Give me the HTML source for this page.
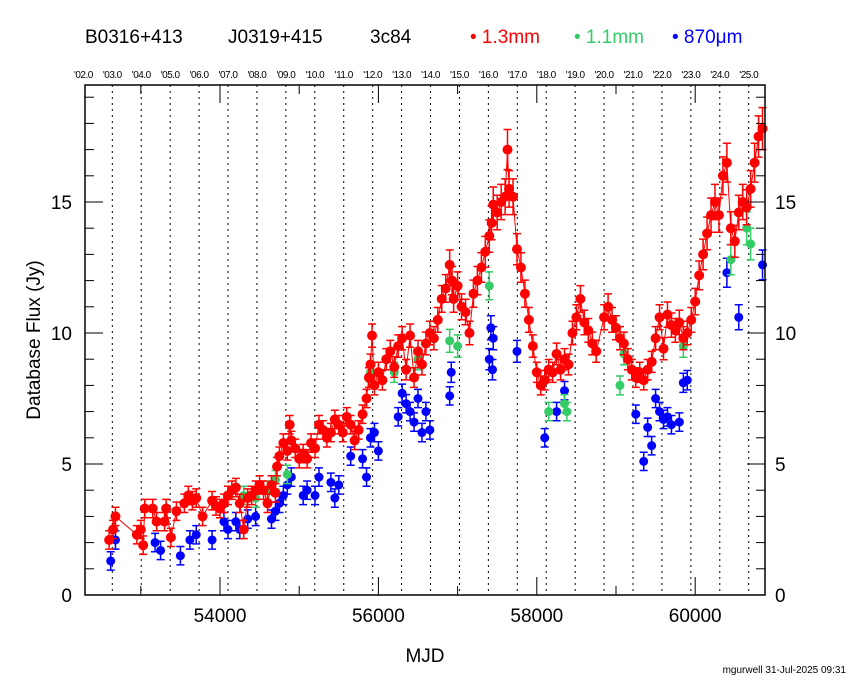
<!DOCTYPE html>
<html><head><meta charset="utf-8"><style>
body{margin:0;background:#fff;}
svg{display:block;font-family:"Liberation Sans",sans-serif;}
</style></head><body>
<svg id="chart" width="850" height="680" viewBox="0 0 850 680" xmlns="http://www.w3.org/2000/svg">
<rect width="850" height="680" fill="#fff"/>
<text x="85" y="43" font-size="19" fill="#000">B0316+413</text>
<text x="228" y="43" font-size="19" fill="#000">J0319+415</text>
<text x="370" y="43" font-size="19" fill="#000">3c84</text>
<g font-size="19">
<text x="470" y="43" fill="#ff0000">• 1.3mm</text>
<text x="574" y="43" fill="#33cc66">• 1.1mm</text>
<text x="672" y="43" fill="#0000ff">• 870μm</text>
</g>
<g id="grid"></g><g id="data"></g>
<rect x="85" y="85" width="680" height="510" fill="none" stroke="#000" stroke-width="1.5"/>
<g id="axes"></g>
<text transform="translate(40,340) rotate(-90)" text-anchor="middle" font-size="19">Database Flux (Jy)</text>
<text x="425" y="662" text-anchor="middle" font-size="19">MJD</text>
<text x="846" y="673" text-anchor="end" font-size="10">mgurwell 31-Jul-2025 09:31</text>
</svg>
<script>
const redMjd=[52600,52650,52680,52950,53000,53030,53050,53150,53200,53300,53320,53380,53450,53550,53600,53650,53700,53780,53900,53950,54000,54050,54100,54150,54200,54250,54300,54350,54400,54450,54500,54550,54600,54650,54700,54720,54750,54800,54850,54880,54900,54950,55000,55050,55100,55150,55200,55250,55300,55350,55400,55450,55500,55550,55600,55650,55700,55750,55800,55850,55880,55900,55920,55950,56000,56050,56100,56150,56200,56250,56300,56350,56400,56450,56500,56550,56600,56650,56700,56750,56800,56850,56900,56930,56950,57000,57050,57100,57150,57200,57250,57300,57350,57400,57430,57450,57500,57550,57600,57630,57650,57700,57750,57800,57850,57900,57950,58000,58050,58100,58150,58200,58250,58300,58350,58400,58450,58500,58550,58600,58650,58700,58750,58850,58900,58950,59000,59050,59100,59150,59200,59250,59300,59350,59400,59450,59500,59550,59600,59650,59700,59750,59800,59850,59900,59950,60000,60050,60100,60150,60200,60250,60300,60350,60400,60450,60500,60550,60600,60650,60700,60750,60800,60850];
const redFlux=[2.1,2.5,3.0,2.3,2.5,1.9,3.3,3.3,2.8,2.8,3.3,2.2,3.2,3.5,3.8,3.6,3.7,3.0,3.6,3.4,3.3,3.5,3.8,4.0,4.1,3.5,2.5,3.7,3.8,4.0,4.2,4.0,3.5,4.2,3.9,4.9,5.3,5.8,5.5,6.5,5.9,5.6,5.2,5.4,5.2,5.8,5.6,6.5,6.3,6.0,6.2,6.7,6.5,6.2,6.8,6.5,5.9,6.3,6.9,7.5,8.3,8.8,9.9,8.0,8.5,8.2,9.0,9.3,8.7,9.5,9.8,8.6,9.9,8.3,9.3,8.8,9.6,10.0,9.8,10.5,11.3,11.7,12.6,12.0,11.3,11.8,11.0,10.8,10.0,11.5,12.0,12.5,13.1,13.7,14.2,14.9,14.6,15.0,15.2,17.0,15.5,15.2,13.2,12.5,11.5,10.5,9.5,8.5,8.0,8.2,8.6,8.5,9.2,8.6,9.0,8.8,10.0,10.6,11.3,10.4,10.1,9.6,9.3,10.6,11.0,10.5,10.2,9.8,9.6,9.0,8.6,8.3,8.5,8.2,8.6,8.9,9.8,10.6,9.4,10.7,10.3,10.1,10.4,9.8,10.0,10.5,11.2,12.2,13.0,13.8,14.5,15.0,14.5,16.0,16.5,14.0,13.5,14.6,15.0,14.8,15.5,16.5,17.5,17.8];
const greenMjd=[54300,54450,54600,54700,54850,55900,56200,56500,56900,57000,57400,58150,58350,58380,59050,59100,59850,60450,60650,60700];
const greenFlux=[3.8,3.7,4.0,4.4,4.6,8.5,8.5,9.0,9.7,9.5,11.8,7.0,7.3,7.0,8.0,9.2,9.5,12.8,14.0,13.4];
const blueMjd=[52620,52680,53180,53250,53500,53620,53700,53900,54050,54100,54200,54250,54350,54450,54650,54700,54750,54800,54850,54900,55050,55100,55200,55250,55400,55450,55500,55650,55800,55850,55900,55950,56000,56250,56300,56350,56400,56450,56500,56550,56600,56650,56900,56920,57400,57420,57440,57450,57750,58100,58250,58350,59250,59350,59400,59450,59500,59550,59600,59650,59700,59800,59850,59900,60400,60550,60850];
const blueFlux=[1.3,2.1,2.0,1.7,1.5,2.1,2.3,2.1,2.8,2.5,2.8,2.5,2.9,3.0,2.9,3.2,3.5,3.8,4.2,4.5,3.8,4.0,3.8,4.5,4.3,3.7,4.2,5.3,5.2,4.5,6.0,6.2,5.5,6.8,7.7,7.3,7.0,6.6,7.5,6.2,7.0,6.3,7.6,8.5,9.0,10.2,8.6,9.8,9.3,6.0,7.0,7.8,6.9,5.1,6.4,5.7,7.5,7.0,6.7,6.8,6.5,6.6,8.1,8.2,12.3,10.6,12.6];
const yTicks=[0,5,10,15];
const xTicks=[54000,56000,58000,60000];
const yearLabels=["'02.0","'03.0","'04.0","'05.0","'06.0","'07.0","'08.0","'09.0","'10.0","'11.0","'12.0","'13.0","'14.0","'15.0","'16.0","'17.0","'18.0","'19.0","'20.0","'21.0","'22.0","'23.0","'24.0","'25.0"];

const NS="http://www.w3.org/2000/svg";
const X=m=>220+(m-54000)*0.0792;
const Y=f=>595-f*26.2;
function el(tag,attrs,parent){const e=document.createElementNS(NS,tag);for(const k in attrs)e.setAttribute(k,attrs[k]);parent.appendChild(e);return e;}
const grid=document.getElementById('grid'),data=document.getElementById('data'),axes=document.getElementById('axes');

yearLabels.forEach((lab,i)=>{
  const m=52275+i*365.25, x=X(m);
  if(i>0){const l=el('line',{x1:x,x2:x,y1:85,y2:595,stroke:'#000','stroke-width':1,'stroke-dasharray':'2,4'},grid);
  
  }
  const t=el('text',{x:x,y:78,'text-anchor':'middle','font-size':10,'letter-spacing':'-0.5'},grid);
  
  
  t.textContent=lab;
});
for(let f=0;f<=19;f++){
  const big=f%5===0, len=big?18:9;
  const a=el('line',{x1:85,x2:85+len,y1:Y(f),y2:Y(f),stroke:'#000'},axes);
  
  
  const b=el('line',{x1:765,x2:765-len,y1:Y(f),y2:Y(f),stroke:'#000'},axes);
  
  
}
for(let m=53000;m<=60000;m+=1000){
  const big=m%2000===0,len=big?18:9;
  const a=el('line',{x1:X(m),x2:X(m),y1:595,y2:595-len,stroke:'#000'},axes);
  
  
  const b=el('line',{x1:X(m),x2:X(m),y1:85,y2:85+len,stroke:'#000'},axes);
  
  
}
yTicks.forEach(v=>{
  const t=el('text',{x:72,y:Y(v)+7,'text-anchor':'end','font-size':19},axes);
  
  
  t.textContent=v;
  const r=el('text',{x:775,y:Y(v)+7,'font-size':19},axes);
  
  
  r.textContent=v;
});
xTicks.forEach(v=>{
  const t=el('text',{x:X(v),y:622,'text-anchor':'middle','font-size':19},axes);
  
  
  t.textContent=v;
});

function series(ms,fs,color,name,line,r){
  if(line){
    const p=el('polyline',{points:ms.map((m,i)=>X(m)+','+Y(fs[i])).join(' '),fill:'none',stroke:color,'stroke-width':1},data);
    
    
  }
  ms.forEach((m,i)=>{
    const x=X(m),y=Y(fs[i]),e=Math.max(0.35,fs[i]*0.045)*26.2;
    const g=el('path',{d:`M${x},${y-e}V${y+e}M${x-4},${y-e}H${x+4}M${x-4},${y+e}H${x+4}`,stroke:color,'stroke-width':1.5,fill:'none'},data);
    
    
    const c=el('circle',{cx:x,cy:y,r:r,fill:color},data);
    
    
  });
}
series(blueMjd,blueFlux,'#0000ff','flux-870um',false,4.5);
series(greenMjd,greenFlux,'#33cc66','flux-1p1mm',false,4.5);
series(redMjd,redFlux,'#ff0000','flux-1p3mm',true,5);
</script>
</body></html>
